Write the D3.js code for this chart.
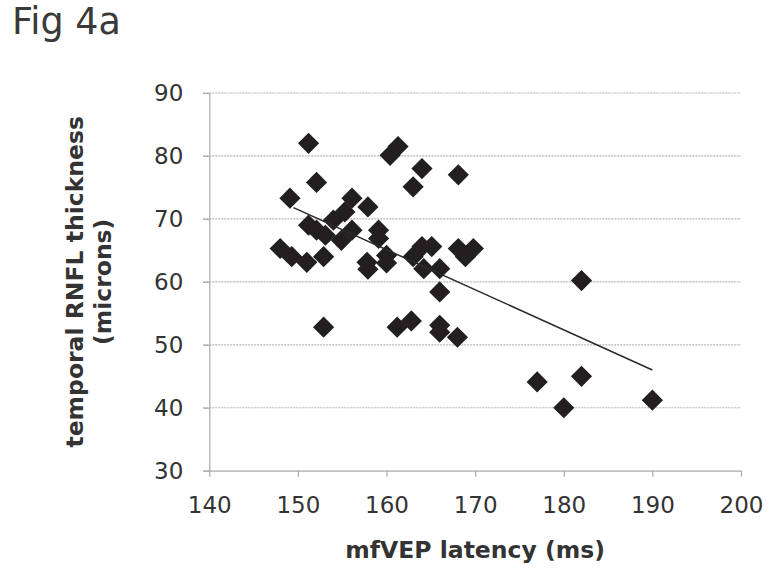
<!DOCTYPE html>
<html>
<head>
<meta charset="utf-8">
<script src="https://cdn.jsdelivr.net/npm/d3@7"></script>
<style>
  html, body { margin: 0; padding: 0; background: #ffffff; }
  svg { display: block; }
</style>
</head>
<body>
<svg id="chart" width="770" height="571"></svg>
<script>
// ---- data ----
const latency = [148,149.3,149.1,151.2,152.1,151.2,152.1,153.1,151,152.9,152.9,154,155.3,154.9,156.1,156.1,157.9,157.8,157.9,159.1,159.1,160,160,160.4,161.3,161.2,162.8,163,164,163,164,165.1,164.2,166,166,166,166,168,168.1,168.1,169.8,168.9,177,180,182,182,190];
const thickness = [65.3,64,73.3,82,75.8,69,68.2,67.4,63.1,64,52.8,69.8,71.1,66.6,68.2,73.3,71.9,63.1,62,68.2,66.9,64.2,63,80.1,81.5,52.8,53.8,75.1,78,64,65.6,65.6,62.1,62.1,58.4,53.1,52,51.2,77,65.3,65.3,64,44.1,40,45,60.2,41.2];
const trendX = [149.5, 190];
const trendY = [71.8, 46];
const xTicks = [140,150,160,170,180,190,200];
const yTicks = [30,40,50,60,70,80,90];
const figLabel = "Fig 4a";
const xTitle = "mfVEP latency (ms)";
const yTitle = ["temporal RNFL thickness", "(microns)"];

// ---- layout ----
const svg = d3.select("#chart");
const pLeft = 209.3, pRight = 741, pTop = 93, pBottom = 470.7;
const x = d3.scaleLinear().domain([140, 200]).range([pLeft, pRight]);
const y = d3.scaleLinear().domain([30, 90]).range([pBottom, pTop]);
const font = "'DejaVu Sans', Verdana, sans-serif";
const txt = "#333333";

svg.append("text").attr("x", 12).attr("y", 34)
  .attr("font-family", font).attr("font-size", 36.5).attr("fill", "#3a3a3a")
  .text(figLabel);

// gridlines
svg.append("g").selectAll("line").data(yTicks.filter(d => d !== 30)).join("line")
  .attr("x1", pLeft - 6).attr("x2", pRight)
  .attr("y1", d => y(d)).attr("y2", d => y(d))
  .attr("stroke", "#b5b5b5").attr("stroke-width", 1.2).attr("stroke-dasharray", "2,1");

// y axis
const yAxis = d3.axisLeft(y).tickValues(yTicks).tickSize(6).tickPadding(20);
const gy = svg.append("g").attr("transform", `translate(${pLeft},0)`).call(yAxis);
gy.select(".domain").attr("stroke", "#aaaaaa").attr("stroke-width", 1.2);
gy.selectAll(".tick line").attr("stroke", "#aaaaaa").attr("stroke-width", 1.2);
gy.selectAll(".tick text").attr("font-family", font).attr("font-size", 23).attr("fill", txt);

// x axis
const xAxis = d3.axisBottom(x).tickValues(xTicks).tickSize(6).tickPadding(24).tickSizeOuter(0);
const gx = svg.append("g").attr("transform", `translate(0,${pBottom})`).call(xAxis);
gx.select(".domain").attr("stroke", "#aaaaaa").attr("stroke-width", 1.2);
gx.selectAll(".tick line").attr("stroke", "#aaaaaa").attr("stroke-width", 1.2);
gx.selectAll(".tick text").attr("font-family", font).attr("font-size", 23).attr("fill", txt).attr("dy", "0.55em");

// points
const pts = latency.map((d, i) => ({x: d, y: thickness[i]}));
const sym = d3.symbol().type(d3.symbolSquare).size(225);
svg.append("g").selectAll("path").data(pts).join("path")
  .attr("d", sym)
  .attr("transform", d => `translate(${x(d.x)},${y(d.y)}) rotate(45)`)
  .attr("fill", "#231f20");

// trend line
svg.append("line")
  .attr("x1", x(trendX[0])).attr("y1", y(trendY[0]))
  .attr("x2", x(trendX[1])).attr("y2", y(trendY[1]))
  .attr("stroke", "#2a2a2a").attr("stroke-width", 1.5);

// titles
svg.append("text").attr("x", (pLeft + pRight) / 2).attr("y", 558)
  .attr("text-anchor", "middle").attr("font-family", font).attr("font-weight", "bold")
  .attr("font-size", 23.5).attr("fill", txt).text(xTitle);

const yt = svg.append("text").attr("transform", `translate(0,${(pTop + pBottom) / 2}) rotate(-90)`)
  .attr("text-anchor", "middle").attr("font-family", font).attr("font-weight", "bold")
  .attr("font-size", 23.5).attr("fill", txt);
yt.append("tspan").attr("x", 0).attr("y", 83).text(yTitle[0]);
yt.append("tspan").attr("x", 0).attr("y", 111).text(yTitle[1]);
</script>
</body>
</html>
